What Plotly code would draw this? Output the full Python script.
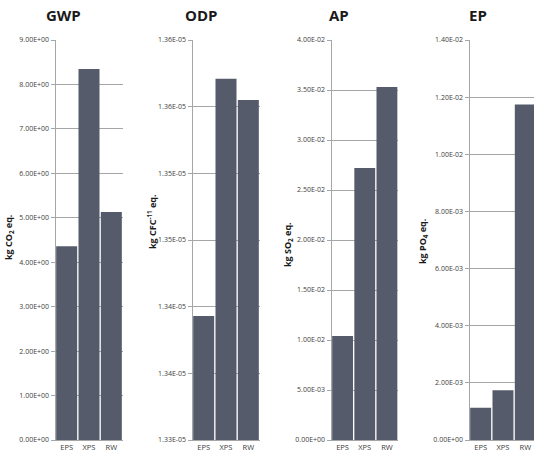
import plotly.graph_objects as go

categories = ["EPS", "XPS", "RW"]

gwp_values = [4.36, 8.35, 5.13]
odp_values = [1.3393e-05, 1.3571e-05, 1.3555e-05]
ap_values = [0.0104, 0.0272, 0.0353]
ep_values = [0.00113, 0.00174, 0.01174]

gwp_ticks = [0, 1, 2, 3, 4, 5, 6, 7, 8, 9]
gwp_ticktext = ["0.00E+00", "1.00E+00", "2.00E+00", "3.00E+00", "4.00E+00",
                "5.00E+00", "6.00E+00", "7.00E+00", "8.00E+00", "9.00E+00"]
odp_ticks = [1.330e-05, 1.335e-05, 1.340e-05, 1.345e-05, 1.350e-05, 1.355e-05, 1.360e-05]
odp_ticktext = ["1.33E-05", "1.34E-05", "1.34E-05", "1.35E-05", "1.35E-05", "1.36E-05", "1.36E-05"]
ap_ticks = [0, 0.005, 0.01, 0.015, 0.02, 0.025, 0.03, 0.035, 0.04]
ap_ticktext = ["0.00E+00", "5.00E-03", "1.00E-02", "1.50E-02", "2.00E-02",
               "2.50E-02", "3.00E-02", "3.50E-02", "4.00E-02"]
ep_ticks = [0, 0.002, 0.004, 0.006, 0.008, 0.010, 0.012, 0.014]
ep_ticktext = ["0.00E+00", "2.00E-03", "4.00E-03", "6.00E-03", "8.00E-03",
               "1.00E-02", "1.20E-02", "1.40E-02"]

titles = ["GWP", "ODP", "AP", "EP"]
unit_labels = ["kg CO<sub>2</sub> eq.", "kg CFC<sup>-11</sup> eq.",
               "kg SO<sub>2</sub> eq.", "kg PO<sub>4</sub> eq."]

W, H = 534, 462
BAR = "#565b6c"
GRID = "#a6a6a6"
FONT = "Open Sans, Liberation Sans, sans-serif"

panels = [
    dict(vals=gwp_values, ticks=gwp_ticks, text=gwp_ticktext, yr=[0, 9],
         x0=55.5, x1=122.5, xr=[-0.5, 2.5], tx=63, ux=9, uy=237),
    dict(vals=odp_values, ticks=odp_ticks, text=odp_ticktext, yr=[1.33e-05, 1.36e-05],
         x0=192.5, x1=259.5, xr=[-0.5, 2.5], tx=201, ux=152, uy=222),
    dict(vals=ap_values, ticks=ap_ticks, text=ap_ticktext, yr=[0, 0.04],
         x0=331.5, x1=398, xr=[-0.5, 2.5], tx=339, ux=288, uy=245),
    dict(vals=ep_values, ticks=ep_ticks, text=ep_ticktext, yr=[0, 0.014],
         x0=469.5, x1=534, xr=[-0.5, 2.39], tx=478, ux=423, uy=241),
]

fig = go.Figure()
annotations = []
y_dom = [1 - 440 / H, 1 - 40 / H]

for i, p in enumerate(panels):
    n = "" if i == 0 else str(i + 1)
    fig.add_trace(go.Bar(x=categories, y=p["vals"], marker=dict(color=BAR, line=dict(width=0)),
                         xaxis="x" + n, yaxis="y" + n, showlegend=False))
    fig.layout["xaxis" + n] = dict(
        domain=[p["x0"] / W, min(p["x1"] / W, 1)], range=p["xr"], anchor="y" + n,
        showgrid=False, showline=True, linecolor=GRID, linewidth=1,
        ticks="", tickfont=dict(family=FONT, size=7.5, color="#404040"),
        automargin=False, fixedrange=True)
    fig.layout["yaxis" + n] = dict(
        domain=y_dom, range=p["yr"], anchor="x" + n,
        tickvals=p["ticks"], ticktext=p["text"],
        showgrid=True, gridcolor=GRID, gridwidth=1,
        showline=True, linecolor=GRID, linewidth=1,
        ticks="outside", ticklen=4, tickcolor=GRID,
        tickfont=dict(family=FONT, size=7, color="#404040"),
        zeroline=False, automargin=False, fixedrange=True)
    annotations.append(dict(text="<b>" + titles[i] + "</b>", x=p["tx"] / W, y=1 - 15 / H,
                            xref="paper", yref="paper", showarrow=False,
                            xanchor="center", yanchor="middle",
                            font=dict(family=FONT, size=15, color="#1a1a1a")))
    annotations.append(dict(text="<b>" + unit_labels[i] + "</b>", x=p["ux"] / W, y=1 - p["uy"] / H,
                            xref="paper", yref="paper", showarrow=False, textangle=-90,
                            xanchor="center", yanchor="middle",
                            font=dict(family=FONT, size=9, color="#1a1a1a")))

fig.update_layout(
    width=W, height=H, margin=dict(l=0, r=0, t=0, b=0),
    paper_bgcolor="white", plot_bgcolor="white",
    bargap=0.06, annotations=annotations,
)

fig.write_html("out.html", config={"displayModeBar": False},
               post_script="document.body.style.margin='0';document.body.style.overflow='hidden';")
